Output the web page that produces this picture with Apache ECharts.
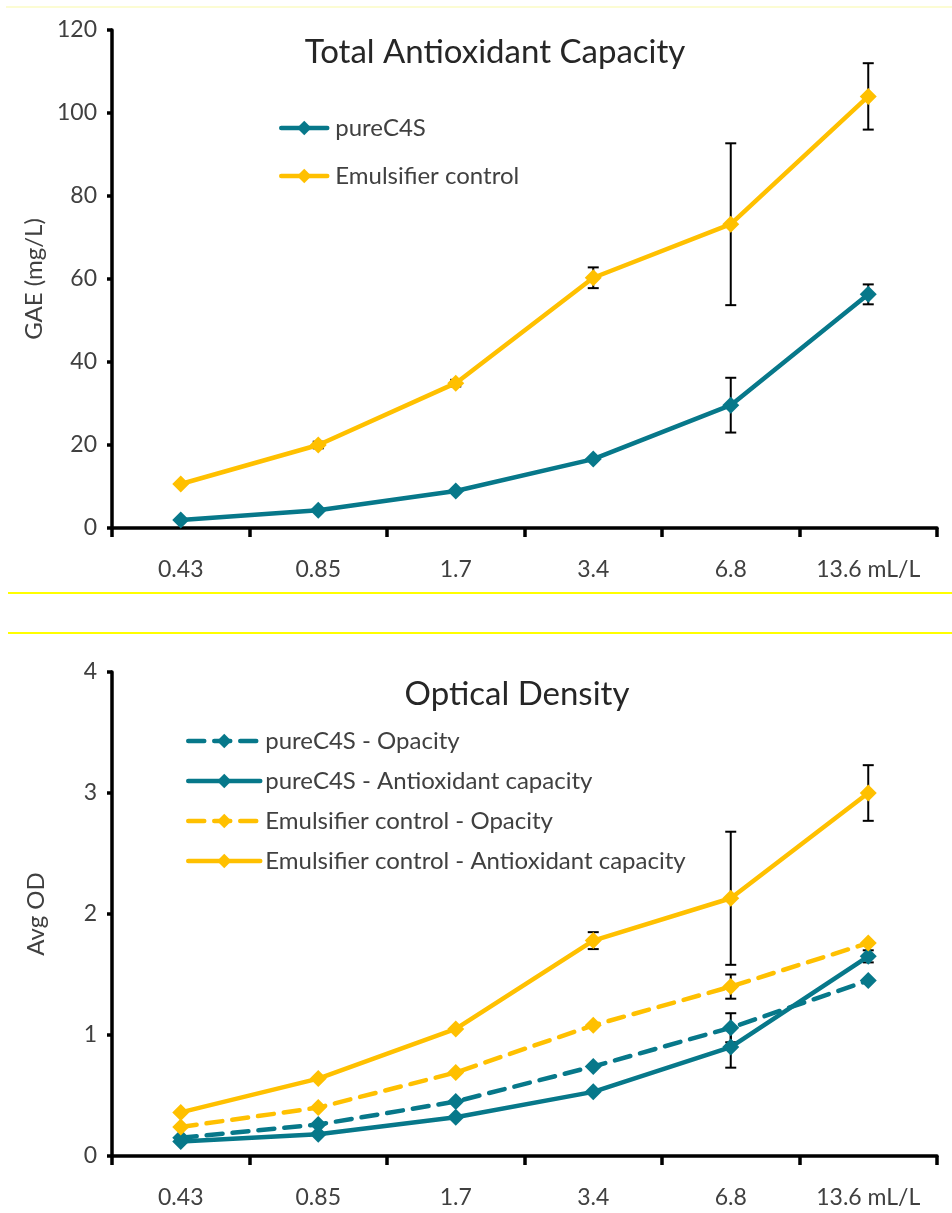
<!DOCTYPE html>
<html>
<head>
<meta charset="utf-8">
<title>Antioxidant capacity</title>
<script src="https://cdn.jsdelivr.net/npm/echarts@6/dist/echarts.min.js"></script>
<style>
  html, body { margin: 0; padding: 0; background: #fff; }
  #chart { width: 952px; height: 1213px; }
</style>
</head>
<body>
<div id="chart"></div>
<script>
// x categories (same for both panels)
const categories = ['0.43', '0.85', '1.7', '3.4', '6.8', '13.6 mL/L'];

// top panel - GAE (mg/L)
const gaePure = [1.9, 4.3, 8.9, 16.6, 29.6, 56.3];
const gaePureErr = [0, 0, 0, 0, 6.6, 2.4];
const gaeEmul = [10.6, 20, 34.9, 60.3, 73.2, 104];
const gaeEmulErr = [0, 0.8, 0.8, 2.5, 19.5, 8];

// bottom panel - Avg OD
const odPureOpacity = [0.15, 0.26, 0.45, 0.74, 1.06, 1.45];
const odPureOpacityErr = [0, 0, 0, 0, 0.12, 0];
const odPureAnti = [0.12, 0.18, 0.32, 0.53, 0.90, 1.65];
const odPureAntiErr = [0, 0, 0, 0, 0.17, 0.05];
const odEmulOpacity = [0.24, 0.40, 0.69, 1.08, 1.40, 1.76];
const odEmulOpacityErr = [0, 0, 0, 0, 0.10, 0];
const odEmulAnti = [0.36, 0.64, 1.05, 1.78, 2.13, 3.0];
const odEmulAntiErr = [0, 0, 0, 0.07, 0.55, 0.23];

const teal = '#07788a';
const gold = '#ffc000';
const font = 'Lato, "Open Sans", sans-serif';
const labelColor = '#404040';

// [index, low, high] for the custom error bar series
function errData(values, errs) {
  return values.map((v, i) => [i, v - errs[i], v + errs[i]]).filter(d => d[2] > d[1]);
}

function renderErr(params, api) {
  const x = api.value(0);
  const lo = api.coord([x, api.value(1)]);
  const hi = api.coord([x, api.value(2)]);
  const hw = 5.5;
  const style = { stroke: '#000', lineWidth: 2 };
  return {
    type: 'group',
    children: [
      { type: 'line', shape: { x1: hi[0], y1: hi[1], x2: lo[0], y2: lo[1] }, style: style },
      { type: 'line', shape: { x1: hi[0] - hw, y1: hi[1], x2: hi[0] + hw, y2: hi[1] }, style: style },
      { type: 'line', shape: { x1: lo[0] - hw, y1: lo[1], x2: lo[0] + hw, y2: lo[1] }, style: style }
    ]
  };
}

function lineSeries(name, data, color, dashed, idx) {
  return {
    name: name,
    type: 'line',
    xAxisIndex: idx,
    yAxisIndex: idx,
    data: data,
    symbol: 'diamond',
    symbolSize: 17,
    z: 3,
    itemStyle: { color: color },
    lineStyle: { color: color, width: 4.5, type: dashed ? [16, 10] : 'solid', cap: 'round' },
    emphasis: { disabled: true }
  };
}

function errSeries(values, errs, idx) {
  return {
    type: 'custom',
    xAxisIndex: idx,
    yAxisIndex: idx,
    renderItem: renderErr,
    data: errData(values, errs),
    z: 1,
    silent: true
  };
}

function xAxis(idx) {
  return {
    type: 'category',
    gridIndex: idx,
    data: categories,
    boundaryGap: true,
    axisLine: { lineStyle: { color: '#000', width: 3.5 } },
    axisTick: { show: true, length: 9, lineStyle: { color: '#000', width: 3.5 } },
    axisLabel: { color: labelColor, fontSize: 23, fontFamily: font, margin: 30 }
  };
}

function yAxis(idx, max, interval, name) {
  return {
    type: 'value',
    gridIndex: idx,
    min: 0,
    max: max,
    interval: interval,
    name: name,
    nameLocation: 'middle',
    nameGap: 64,
    nameTextStyle: { color: labelColor, fontSize: 24, fontFamily: font },
    splitLine: { show: false },
    axisLine: { show: true, lineStyle: { color: '#000', width: 3.5 } },
    axisTick: { show: true, length: 5, lineStyle: { color: '#000', width: 3.5 } },
    axisLabel: { color: labelColor, fontSize: 23, fontFamily: font, margin: 15 }
  };
}

const chart = echarts.init(document.getElementById('chart'));

const option = {
  animation: false,
  backgroundColor: '#fff',
  title: [
    {
      text: 'Total Antioxidant Capacity',
      left: 490, top: 31, textAlign: 'center',
      textStyle: { fontSize: 33, fontWeight: 'normal', color: '#262626', fontFamily: font }
    },
    {
      text: 'Optical Density',
      left: 512, top: 673, textAlign: 'center',
      textStyle: { fontSize: 33, fontWeight: 'normal', color: '#262626', fontFamily: font }
    }
  ],
  legend: [
    {
      data: ['pureC4S', 'Emulsifier control'],
      orient: 'vertical',
      left: 274, top: 111,
      itemWidth: 46, itemHeight: 18, itemGap: 24,
      lineStyle: { width: 4.5 },
      textStyle: { color: labelColor, fontSize: 24, lineHeight: 20, fontFamily: font, padding: [0, 0, 0, 3] }
    },
    {
      data: ['pureC4S - Opacity', 'pureC4S - Antioxidant capacity',
             'Emulsifier control - Opacity', 'Emulsifier control - Antioxidant capacity'],
      orient: 'vertical',
      left: 181, top: 724,
      itemWidth: 72, itemHeight: 18, itemGap: 16,
      lineStyle: { width: 4.5 },
      textStyle: { color: labelColor, fontSize: 24, lineHeight: 20, fontFamily: font }
    }
  ],
  grid: [
    { left: 112, top: 30, width: 825, height: 498 },
    { left: 112, top: 672, width: 825, height: 484 }
  ],
  xAxis: [xAxis(0), xAxis(1)],
  yAxis: [yAxis(0, 120, 20, 'GAE (mg/L)'), yAxis(1, 4, 1, 'Avg OD')],
  series: [
    errSeries(gaePure, gaePureErr, 0),
    errSeries(gaeEmul, gaeEmulErr, 0),
    lineSeries('pureC4S', gaePure, teal, false, 0),
    lineSeries('Emulsifier control', gaeEmul, gold, false, 0),

    errSeries(odPureOpacity, odPureOpacityErr, 1),
    errSeries(odPureAnti, odPureAntiErr, 1),
    errSeries(odEmulOpacity, odEmulOpacityErr, 1),
    errSeries(odEmulAnti, odEmulAntiErr, 1),
    lineSeries('pureC4S - Opacity', odPureOpacity, teal, true, 1),
    lineSeries('pureC4S - Antioxidant capacity', odPureAnti, teal, false, 1),
    lineSeries('Emulsifier control - Opacity', odEmulOpacity, gold, true, 1),
    lineSeries('Emulsifier control - Antioxidant capacity', odEmulAnti, gold, false, 1)
  ],
  // frame lines between the two charts
  graphic: [
    { type: 'line', shape: { x1: 6, y1: 7, x2: 952, y2: 7 }, style: { stroke: '#fbfbc4', lineWidth: 1.5 } },
    { type: 'line', shape: { x1: 8, y1: 593, x2: 952, y2: 593 }, style: { stroke: '#ffff00', lineWidth: 2 } },
    { type: 'line', shape: { x1: 8, y1: 633, x2: 952, y2: 633 }, style: { stroke: '#ffff00', lineWidth: 2 } }
  ]
};

chart.setOption(option);
</script>
</body>
</html>
